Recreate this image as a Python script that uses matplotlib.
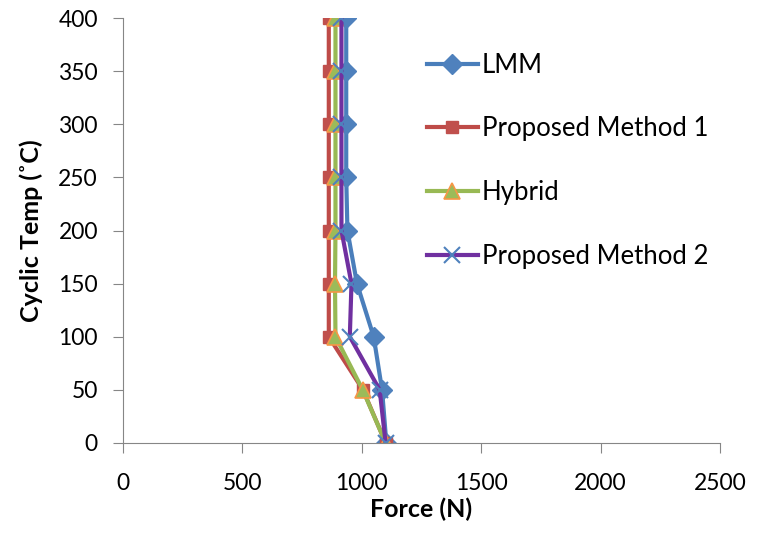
import numpy as np
import matplotlib
matplotlib.use("Agg")
import matplotlib.pyplot as plt

# cyclic temperature levels (y) and force values (x) for each method
temps = [0, 50, 100, 150, 200, 250, 300, 350, 400]
lmm = [1103, 1085, 1050, 980, 940, 935, 935, 935, 935]
method1 = [1100, 1005, 862, 862, 862, 862, 862, 862, 862]
hybrid = [1100, 1004, 890, 888, 890, 890, 890, 890, 890]
method2 = [1100, 1075, 950, 957, 915, 915, 915, 915, 915]

plt.rcParams['font.family'] = ['Lato', 'DejaVu Sans']

fig = plt.figure(figsize=(7.61, 5.33), dpi=100)
ax = fig.add_axes([0.1616, 0.169, 0.7844, 0.797])

ax.plot(lmm, temps, color='#4A7EBB', lw=3, marker='D', ms=10,
        mfc='#4F81BD', mec='#4F81BD', label='LMM')
ax.plot(method1, temps, color='#BE4B48', lw=3, marker='s', ms=9,
        mfc='#C0504D', mec='#C0504D', label='Proposed Method 1')
ax.plot(hybrid, temps, color='#98B954', lw=3, marker='^', ms=11,
        mfc='#9BBB59', mec='#F79646', mew=1.2, label='Hybrid')
ax.plot(method2, temps, color='#7030A0', lw=3, marker='x', ms=11,
        mec='#4F81BD', mew=1.5, label='Proposed Method 2')

ax.set_xlim(0, 2500)
ax.set_ylim(0, 400)
ax.set_xticks(np.arange(0, 2501, 500))
ax.set_yticks(np.arange(0, 401, 50))
ax.tick_params(labelsize=16.5, color='#868686', length=7, direction='out')
ax.tick_params(axis='x', pad=15)
ax.tick_params(axis='y', pad=11)

for side in ['top', 'right']:
    ax.spines[side].set_visible(False)
for side in ['left', 'bottom']:
    ax.spines[side].set_color('#868686')

ax.set_xlabel('Force (N)', fontsize=18, fontweight='bold', labelpad=2)
ax.set_ylabel('Cyclic Temp (˚C)', fontsize=18, fontweight='bold', labelpad=11)

ax.legend(loc='upper left', bbox_to_anchor=(0.547, 0.92), bbox_transform=fig.transFigure,
          frameon=False, fontsize=18.5, labelspacing=1.5, handlelength=2.0,
          handletextpad=0.15, borderaxespad=0)

fig.savefig('out.png', dpi=100)
